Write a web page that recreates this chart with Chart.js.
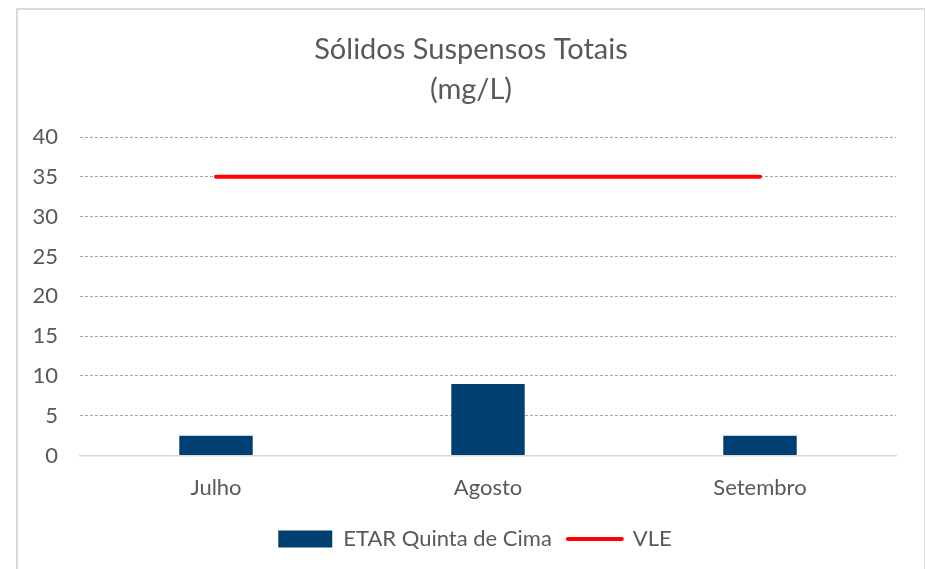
<!DOCTYPE html>
<html>
<head>
<meta charset="utf-8">
<script src="https://cdn.jsdelivr.net/npm/chart.js@4"></script>
<style>
  body { margin: 0; background: #fff; }
  #frame {
    position: absolute; left: 16px; top: 8px;
    width: 906px; height: 575px;
    border: 2px solid #d9d9d9;
  }
  canvas { display: block; }
</style>
</head>
<body>
<div id="frame"><canvas id="chart" width="906" height="561"></canvas></div>
<script>
const months = ["Julho", "Agosto", "Setembro"];
const etarValues = [2.5, 9, 2.5];
const vleValues = [35, 35, 35];
const yTicks = [0, 5, 10, 15, 20, 25, 30, 35, 40];

const textColor = "#595959";
const fontFamily = "Lato, 'Open Sans', sans-serif";

const ctx = document.getElementById("chart").getContext("2d");

// title and legend are centred on the whole frame, not on the padded area
const shiftBoxes = {
  id: "shiftBoxes",
  afterLayout(chart) {
    chart.titleBlock.left += 14;
    chart.titleBlock.right += 14;
    chart.legend.left += 18;
    chart.legend.right += 18;
  }
};

new Chart(ctx, {
  type: "bar",
  data: {
    labels: months,
    datasets: [
      {
        type: "line",
        label: "VLE",
        data: vleValues,
        borderColor: "#ff0000",
        backgroundColor: "#ff0000",
        borderWidth: 4,
        borderCapStyle: "round",
        pointRadius: 0,
        order: 0
      },
      {
        label: "ETAR Quinta de Cima",
        data: etarValues,
        backgroundColor: "#004070",
        barPercentage: 0.27,
        categoryPercentage: 1,
        order: 1
      }
    ]
  },
  plugins: [shiftBoxes],
  options: {
    responsive: false,
    animation: false,
    layout: { padding: { left: 0, right: 28, top: 0, bottom: 11 } },
    plugins: {
      title: {
        display: true,
        text: ["Sólidos Suspensos Totais", "(mg/L)"],
        color: textColor,
        font: { family: fontFamily, size: 29, weight: "normal", lineHeight: 1.38 },
        padding: { top: 20, bottom: 27 }
      },
      legend: {
        position: "bottom",
        reverse: true,
        labels: {
          color: textColor,
          font: { family: fontFamily, size: 22 },
          usePointStyle: true,
          pointStyleWidth: 54,
          boxHeight: 17,
          padding: 16,
          generateLabels(chart) {
            const items = Chart.defaults.plugins.legend.labels.generateLabels(chart);
            items.forEach(it => {
              const ds = chart.data.datasets[it.datasetIndex];
              if (ds.type === "line") {
                it.pointStyle = "line";
                it.lineWidth = 4;
                it.lineCap = "round";
                it.strokeStyle = "#ff0000";
              } else {
                it.pointStyle = "rect";
                it.lineWidth = 0;
                it.fillStyle = "#004070";
              }
            });
            return items;
          }
        }
      },
      tooltip: { enabled: false }
    },
    scales: {
      x: {
        grid: { display: false },
        border: { display: true, color: "#d9d9d9", width: 1.5 },
        ticks: {
          color: textColor,
          font: { family: fontFamily, size: 22 },
          padding: 11
        }
      },
      y: {
        min: 0,
        max: 40,
        afterBuildTicks(scale) {
          scale.ticks = yTicks.map(v => ({ value: v }));
        },
        afterFit(scale) {
          scale.width = 62;
        },
        grid: {
          color: c => (c.tick && c.tick.value === 0 ? "rgba(0,0,0,0)" : "#a6a6a6"),
          lineWidth: 1,
          drawTicks: false
        },
        border: { display: false, dash: [3, 2] },
        ticks: {
          color: textColor,
          font: { family: fontFamily, size: 22 },
          padding: 22
        }
      }
    }
  }
});
</script>
</body>
</html>
